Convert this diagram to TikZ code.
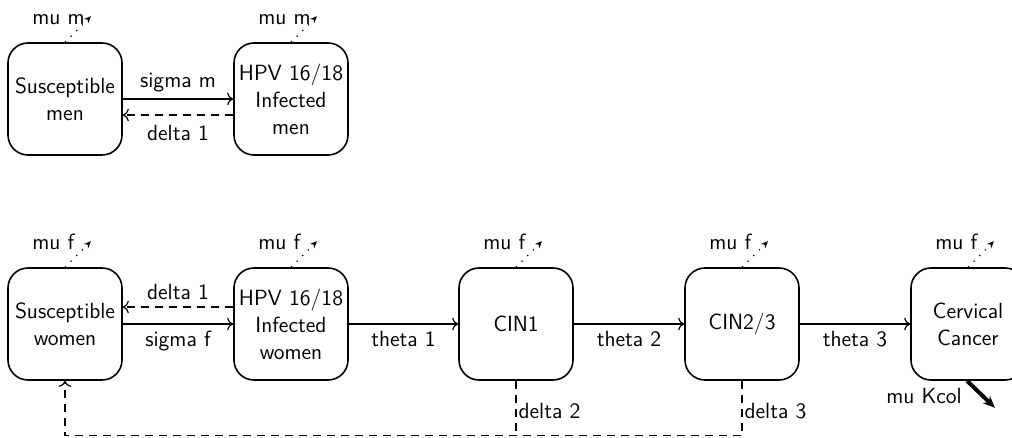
\documentclass[tikz,border=0pt]{standalone}
\usetikzlibrary{arrows.meta}
\tikzset{
	comp/.style={draw,rounded corners=10pt,minimum width=57pt,minimum height=56pt,align=center,line width=0.8pt,inner sep=1pt},
	flow/.style={-{To[length=3pt]},line width=0.6pt},
	back/.style={-{To[length=3pt]},line width=0.6pt,dash pattern=on 4pt off 3pt},
	death/.style={-{Stealth[length=3.5pt,width=3pt]},line width=0.6pt,dash pattern=on 0.6pt off 3.4pt},
	kill/.style={-{Stealth[length=6pt,width=5pt]},line width=2pt}
}
\begin{document}
\begin{tikzpicture}[x=0.5pt,y=-0.5pt,font=\fontsize{11}{13.5}\selectfont\sffamily]
	\useasboundingbox (0,0) rectangle (1012,438);
	% men
	\node[comp] (sm) at (65,99) {Susceptible\\men};
	\node[comp] (im) at (291,99) {HPV 16/18\\Infected\\men};
	% women
	\node[comp] (sw) at (65,324) {Susceptible\\women};
	\node[comp] (iw) at (291,324) {HPV 16/18\\Infected\\women};
	\node[comp] (cin1) at (516,324) {CIN1};
	\node[comp] (cin23) at (742,324) {CIN2/3};
	\node[comp] (cc) at (968,324) {Cervical\\Cancer};
	\draw[flow] (sm) -- node[above]{sigma m} (im);
	\draw[back] ([yshift=-8pt]im.west) -- node[below,yshift=-1.5pt]{delta 1} ([yshift=-8pt]sm.east);
	\draw[back] ([yshift=8.5pt]iw.west) -- node[above]{delta 1} ([yshift=8.5pt]sw.east);
	\draw[flow] (sw) -- node[below]{sigma f} (iw);
	\draw[flow] (iw) -- node[below]{theta 1} (cin1);
	\draw[flow] (cin1) -- node[below]{theta 2} (cin23);
	\draw[flow] (cin23) -- node[below]{theta 3} (cc);
	\draw[back,-] (cin1.south) -- node[pos=0.55,right,inner sep=1pt]{delta 2} ++(0,55);
	\draw[back] (cin23.south) -- node[pos=0.55,right,inner sep=1pt]{delta 3} ++(0,55) -| (sw.south);
	% deaths
	\draw[death] (sm.north) node[anchor=base west,xshift=-20pt,yshift=9pt]{mu m} -- ++(26,-26);
	\draw[death] (im.north) node[anchor=base west,xshift=-20pt,yshift=9pt]{mu m} -- ++(26,-26);
	\draw[death] (sw.north) node[anchor=base west,xshift=-20pt,yshift=9pt]{mu f} -- ++(26,-26);
	\draw[death] (iw.north) node[anchor=base west,xshift=-20pt,yshift=9pt]{mu f} -- ++(26,-26);
	\draw[death] (cin1.north) node[anchor=base west,xshift=-20pt,yshift=9pt]{mu f} -- ++(26,-26);
	\draw[death] (cin23.north) node[anchor=base west,xshift=-20pt,yshift=9pt]{mu f} -- ++(26,-26);
	\draw[death] (cc.north) node[anchor=base west,xshift=-20pt,yshift=9pt]{mu f} -- ++(26,-26);
	\draw[kill] ([xshift=-0.5pt]cc.south) -- node[pos=0.55,left=6pt]{mu Kcol} ++(28,27);
\end{tikzpicture}
\end{document}
